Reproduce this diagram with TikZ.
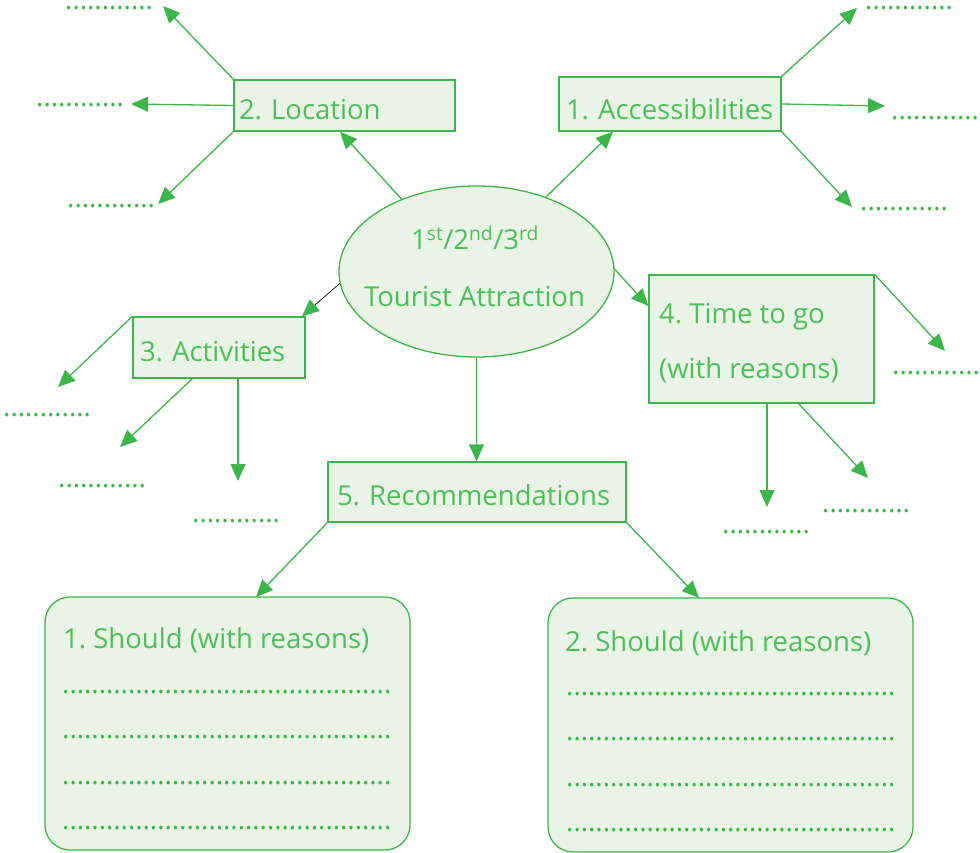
\documentclass[tikz,border=0pt]{standalone}
\usepackage{fontspec}
\setmainfont{Open Sans}
\usetikzlibrary{arrows.meta,shapes.geometric}
\definecolor{gline}{HTML}{3DB54A}
\definecolor{gtext}{HTML}{4DBE5B}
\definecolor{gfill}{HTML}{EAF4E6}
\newcommand{\mainsz}{\fontsize{27.5}{33}\selectfont}
\tikzset{
  box/.style={draw=gline, fill=gfill, line width=1.3pt, inner sep=0pt, text=gtext, font=\mainsz, align=left,
              execute at begin node={\hyphenpenalty=10000\exhyphenpenalty=10000}},
  conn/.style={draw=gline, line width=1.3pt, -{Triangle[length=17pt,width=15pt]}},
  dotline/.style={text=gline, font=\mainsz, anchor=base west, inner sep=0pt},
  label/.style={text=gtext, font=\mainsz, anchor=base west, inner sep=0pt}
}
\begin{document}
\frenchspacing
\begin{tikzpicture}[x=1pt,y=-1pt]
\useasboundingbox (0,0) rectangle (980,853);
% central ellipse
\node[ellipse, draw=gline, fill=gfill, line width=1.3pt, minimum width=275pt, minimum height=171pt, inner sep=0pt] (ell) at (476.5,271.5) {};
\node[label, anchor=base] (ell1) at (475,250) {1\textsuperscript{st}/2\textsuperscript{nd}/3\textsuperscript{rd}};
\node[label, anchor=base] (ell2) at (474.5,306) {Tourist Attraction};
% boxes
\node[box, minimum width=221pt, minimum height=51pt, text width=211pt, text height=29pt, text depth=0pt] (loc) at (344.5,105.5) {2. Location};
\node[box, minimum width=222pt, minimum height=54pt, text width=208pt, text height=32pt, text depth=0pt] (acc) at (670,104) {1.~Accessibilities};
\node[box, minimum width=172pt, minimum height=61pt, text width=158pt, text height=27pt, text depth=0pt] (act) at (219,347.5) {3. Activities};
\node[box, minimum width=225pt, minimum height=128pt] (time) at (761.5,339) {};
\node[label] (time1) at (659,323) {4. Time to go};
\node[label] (time2) at (659,378) {(with reasons)};
\node[box, minimum width=298pt, minimum height=60pt, text width=280pt, text height=26pt, text depth=0pt] (rec) at (477,492) {5. Recommendations};
\node[box, rounded corners=25pt, minimum width=365pt, minimum height=253pt] (sh1) at (227.5,723.5) {};
\node[box, rounded corners=25pt, minimum width=365pt, minimum height=254pt] (sh2) at (730.5,725) {};
% texts inside bottom boxes
\node[label] (sh1t) at (63,648) {1. Should (with reasons)};
\node[dotline] (sh1a) at (62,693) {.............................................};
\node[dotline] (sh1b) at (62,738) {.............................................};
\node[dotline] (sh1c) at (62,784) {.............................................};
\node[dotline] (sh1d) at (62,829) {.............................................};
\node[label] (sh2t) at (565,651) {2. Should (with reasons)};
\node[dotline] (sh2a) at (566,695) {.............................................};
\node[dotline] (sh2b) at (566,740) {.............................................};
\node[dotline] (sh2c) at (566,786) {.............................................};
\node[dotline] (sh2d) at (566,831) {.............................................};
% short dotted answer lines
\node[dotline] (d1) at (65,10) {............};
\node[dotline] (d2) at (36,107) {............};
\node[dotline] (d3) at (67,208) {............};
\node[dotline] (d4) at (865,10) {............};
\node[dotline] (d5) at (891,120) {............};
\node[dotline] (d6) at (860,211) {............};
\node[dotline] (d7) at (3,416) {............};
\node[dotline] (d8) at (58,487) {............};
\node[dotline] (d9) at (192,522) {............};
\node[dotline] (d10) at (892,374) {............};
\node[dotline] (d11) at (822,512) {............};
\node[dotline] (d12) at (722,533) {............};
% arrow tips
\coordinate (t1) at (163,6);
\coordinate (t2) at (131,104);
\coordinate (t3) at (158,204);
\coordinate (t4) at (857,8);
\coordinate (t5) at (885,106);
\coordinate (t6) at (852,207);
\coordinate (t7) at (58,387);
\coordinate (t8) at (120,447);
\coordinate (t9) at (238,481);
\coordinate (t10) at (945,351);
\coordinate (t11) at (767,507);
\coordinate (t12) at (868,478);
\coordinate (t13) at (256,597);
\coordinate (t14) at (699,598);
\coordinate (a1) at (193,378);
\coordinate (a2) at (238,378);
\coordinate (b1) at (767,403);
\coordinate (b2) at (798,403);
% connectors from ellipse
\draw[conn] (ell.136) -- (loc.south -| 340,0);
\draw[conn] (ell.47) -- (acc.south -| 613,0);
\draw[conn] (ell.1.5) -- (time.west |- 0,306);
\draw[black, line width=0.7pt, -{Triangle[length=17pt,width=15pt,color=gline]}] (ell.185) -- (act.north -| 302,0);
\draw[conn] (ell.south) -- (rec.north -| 476.5,0);
% location
\draw[conn] (loc.north west) -- (t1);
\draw[conn] (loc.west) -- (t2);
\draw[conn] (loc.south west) -- (t3);
% accessibilities
\draw[conn] (acc.north east) -- (t4);
\draw[conn] (acc.east) -- (t5);
\draw[conn] (acc.south east) -- (t6);
% activities
\draw[conn] (act.north west) -- (t7);
\draw[conn] (a1) -- (t8);
\draw[conn] (a2) -- (t9);
% time to go
\draw[conn] (time.north east) -- (t10);
\draw[conn] (b1) -- (t11);
\draw[conn] (b2) -- (t12);
% recommendations
\draw[conn] (rec.south west) -- (t13);
\draw[conn] (rec.south east) -- (t14);
\end{tikzpicture}
\end{document}
